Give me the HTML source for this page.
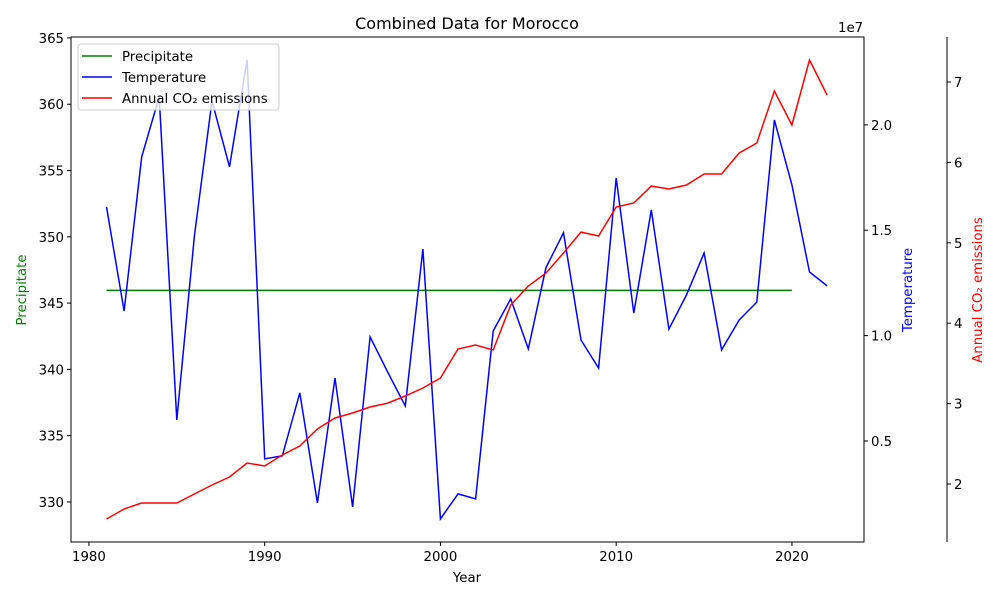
<!DOCTYPE html>
<html><head><meta charset="utf-8"><style>body{margin:0;background:#fff}svg text{font-family:"DejaVu Sans","Liberation Sans",sans-serif}</style></head>
<body>
<svg id="c" width="1000" height="600" xmlns="http://www.w3.org/2000/svg"></svg>
<script>
const years=[1981,1982,1983,1984,1985,1986,1987,1988,1989,1990,1991,1992,1993,1994,1995,1996,1997,1998,1999,2000,2001,2002,2003,2004,2005,2006,2007,2008,2009,2010,2011,2012,2013,2014,2015,2016,2017,2018,2019,2020,2021,2022];
const temperature=[1.611,1.117,1.848,2.133,0.600,1.473,2.114,1.801,2.309,0.415,0.429,0.728,0.206,0.799,0.187,0.994,0.827,0.666,1.411,0.130,0.249,0.225,1.022,1.174,0.937,1.322,1.488,0.979,0.846,1.748,1.107,1.596,1.031,1.193,1.392,0.932,1.074,1.159,2.023,1.715,1.302,1.236];
const co2=[1.565,1.689,1.764,1.764,1.764,1.876,1.988,2.087,2.261,2.224,2.361,2.473,2.684,2.821,2.883,2.958,3.007,3.095,3.194,3.318,3.679,3.729,3.667,4.226,4.463,4.624,4.873,5.134,5.085,5.445,5.495,5.706,5.669,5.719,5.856,5.856,6.117,6.241,6.888,6.465,7.274,6.838];
const precipYears=[1981,1982,1983,1984,1985,1986,1987,1988,1989,1990,1991,1992,1993,1994,1995,1996,1997,1998,1999,2000,2001,2002,2003,2004,2005,2006,2007,2008,2009,2010,2011,2012,2013,2014,2015,2016,2017,2018,2019,2020];
const precipitate=precipYears.map(()=>345.96);
const xTicks=[1980,1990,2000,2010,2020];
const pTicks=[330,335,340,345,350,355,360,365];
const tTicks=[0.5,1.0,1.5,2.0];
const cTicks=[2,3,4,5,6,7];

const L=71,R=864,T=37,B=542;
const sx=v=>L+(v-1978.98)/(2024.1-1978.98)*(R-L);
const lin=(d0,d1)=>v=>B-(v-d0)/(d1-d0)*(B-T);
const sp=lin(326.98,365.07), st=lin(0.0206,2.417), sc=lin(1.279,7.56);
const svg=document.getElementById('c');const NS='http://www.w3.org/2000/svg';
const FS=13.3;
function el(t,a,txt){const e=document.createElementNS(NS,t);for(const k in a)e.setAttribute(k,a[k]);if(txt!==undefined)e.textContent=txt;svg.appendChild(e);return e;}
function line(xs,ys,fx,fy,col,name){const e=el('polyline',{points:xs.map((x,i)=>fx(x).toFixed(1)+','+fy(ys[i]).toFixed(1)).join(' '),fill:'none',stroke:col,'stroke-width':1.5});

}
line(precipYears,precipitate,sx,sp,'green','precipitate-line');
line(years,temperature,sx,st,'blue','temperature-line');
line(years,co2,sx,sc,'red','co2-line');
let f=el('rect',{x:L,y:T,width:R-L,height:B-T,fill:'none',stroke:'#000','stroke-width':1});


let s3=el('line',{x1:947,y1:T,x2:947,y2:B,stroke:'#000'});


xTicks.forEach(v=>{const x=sx(v);el('line',{x1:x,y1:B,x2:x,y2:B+4,stroke:'#000'});const t=el('text',{x:x,y:B+19,'font-size':FS,'text-anchor':'middle'},v);

});
pTicks.forEach(v=>{const y=sp(v);el('line',{x1:L-4,y1:y,x2:L,y2:y,stroke:'#000'});const t=el('text',{x:L-7,y:y+5,'font-size':FS,'text-anchor':'end'},v);

});
tTicks.forEach(v=>{const y=st(v);el('line',{x1:R,y1:y,x2:R+4,y2:y,stroke:'#000'});const t=el('text',{x:R+7,y:y+5,'font-size':FS},v.toFixed(1));

});
cTicks.forEach(v=>{const y=sc(v);el('line',{x1:947,y1:y,x2:951,y2:y,stroke:'#000'});const t=el('text',{x:954,y:y+5,'font-size':FS},v);

});
function lab(txt,a,name){const t=el('text',a,txt);}
lab('Combined Data for Morocco',{x:467,y:29,'font-size':16,'text-anchor':'middle'},'chart-title');
lab('Year',{x:467,y:582,'font-size':FS,'text-anchor':'middle'},'x-axis-title');
lab('1e7',{x:838,y:32,'font-size':FS},'temperature-offset-label');
lab('Precipitate',{x:26,y:290,'font-size':FS,'text-anchor':'middle',fill:'green',transform:'rotate(-90 26 290)'},'precipitate-axis-title');
lab('Temperature',{x:912,y:290,'font-size':FS,'text-anchor':'middle',fill:'blue',transform:'rotate(-90 912 290)'},'temperature-axis-title');
lab('Annual CO₂ emissions',{x:982,y:290,'font-size':FS,'text-anchor':'middle',fill:'red',transform:'rotate(-90 982 290)'},'co2-axis-title');
let lg=el('rect',{x:78,y:44,width:201,height:66,rx:3,fill:'#fff','fill-opacity':0.8,stroke:'#ccc'});


[['Precipitate','green'],['Temperature','blue'],['Annual CO₂ emissions','red']].forEach((d,i)=>{const y=56+i*21;el('line',{x1:82,y1:y,x2:112,y2:y,stroke:d[1],'stroke-width':1.5});const t=el('text',{x:122,y:y+5,'font-size':FS},d[0]);

});
</script>
</body></html>
